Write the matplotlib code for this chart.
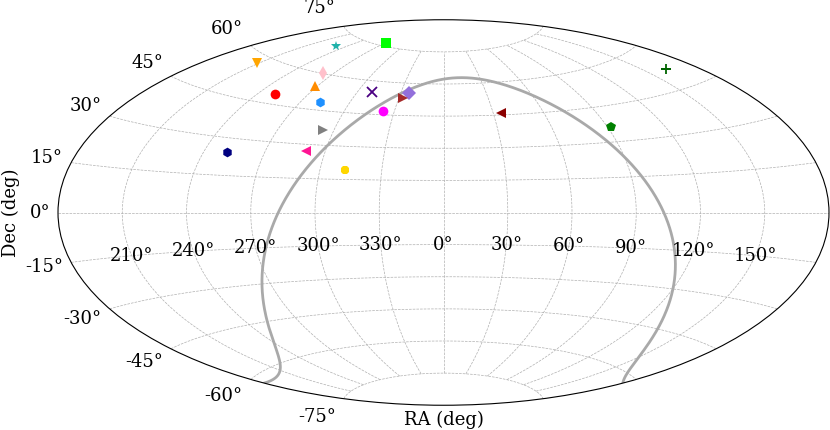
import numpy as np
import matplotlib
matplotlib.use("Agg")
import matplotlib.pyplot as plt

plt.rcParams["font.family"] = "serif"

# objects: RA / Dec in degrees, with marker and colour
ra = [230.2, 272.0, 209.0, 262.0, 268.3, 250.3, 281.5, 309.8, 335.6,
      332.8, 323.0, 294.2, 251.5, 290.3, 312.3, 34.7, 91.8, 163.4]
dec = [70.4, 76.2, 57.1, 60.3, 54.8, 48.9, 48.6, 54.8, 55.3,
       53.0, 46.6, 36.5, 24.3, 27.1, 19.2, 45.9, 36.4, 52.0]
markers = ["*", "s", "v", "d", "^", "o", "h", "x", "D",
           ">", "o", ">", "h", "<", "8", "<", "p", "+"]
colors = ["lightseagreen", "lime", "orange", "pink", "darkorange", "red",
          "dodgerblue", "indigo", "mediumpurple", "brown", "magenta", "gray",
          "navy", "deeppink", "gold", "darkred", "green", "darkgreen"]

# galactic north pole (J2000), used to draw the galactic plane
ngp_ra = 192.859
ngp_dec = 27.128

ra_ticks = [-150, -120, -90, -60, -30, 0, 30, 60, 90, 120, 150]
ra_labels = ["210°", "240°", "270°", "300°", "330°", "0°",
             "30°", "60°", "90°", "120°", "150°"]


def to_lon(a):
    a = np.asarray(a, dtype=float)
    return np.radians(np.where(a > 180, a - 360, a))


fig = plt.figure(figsize=(8.3, 4.3), dpi=100)
ax = fig.add_axes([58 / 830, (430 - 405.25) / 430, 771 / 830, 385.5 / 430],
                  projection="aitoff")
ax.grid(True, linestyle="--", linewidth=0.5, color="#b0b0b0")

# galactic plane (b = 0) in equatorial coordinates
gp_ra = np.linspace(-180, 180, 721)
gp_dec = np.degrees(np.arctan(-np.cos(np.radians(gp_ra - ngp_ra))
                              / np.tan(np.radians(ngp_dec))))
ax.plot(np.radians(gp_ra), np.radians(gp_dec), color="darkgray", lw=2, zorder=2)

for r, d, m, c in zip(ra, dec, markers, colors):
    ax.plot(to_lon(r), np.radians(d), marker=m, color=c, ms=7,
            mew=1.3 if m in "x+" else 0, ls="none", zorder=3)

ax.set_xticklabels([])
for t, lab in zip(ra_ticks, ra_labels):
    ax.text(np.radians(t), np.radians(-15), lab, ha="center", va="center",
            fontsize=13)
ax.tick_params(axis="y", labelsize=13)
ax.set_xlabel("RA (deg)", fontsize=13)
ax.set_ylabel("Dec (deg)", fontsize=13)

fig.savefig("out.png", dpi=100)
